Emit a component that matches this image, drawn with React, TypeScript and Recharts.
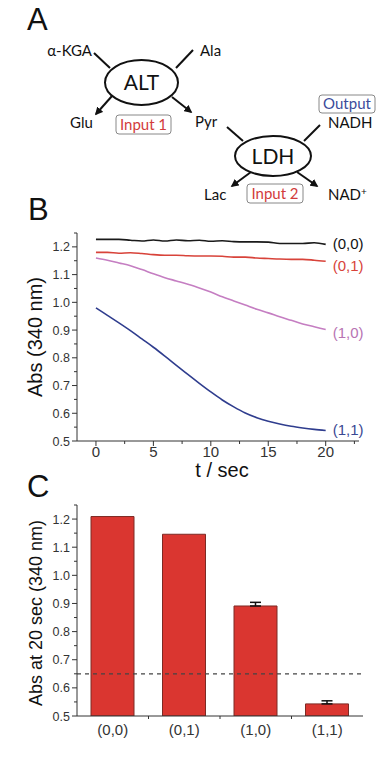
import React from 'react';
import { LineChart, Line, XAxis, YAxis, BarChart, Bar, ErrorBar, ReferenceLine, ReferenceDot } from 'recharts';

// ---- panel B: absorbance traces ----
const times = [0, 1, 2, 3, 4, 5, 6, 7, 8, 9, 10, 11, 12, 13, 14, 15, 16, 17, 18, 19, 20];
const abs00 = [1.227, 1.227, 1.227, 1.224, 1.221, 1.225, 1.221, 1.225, 1.222, 1.224, 1.22, 1.222, 1.219, 1.218, 1.218, 1.217, 1.212, 1.212, 1.212, 1.215, 1.209];
const abs01 = [1.18, 1.18, 1.177, 1.179, 1.176, 1.172, 1.17, 1.17, 1.168, 1.167, 1.167, 1.166, 1.163, 1.163, 1.16, 1.158, 1.156, 1.155, 1.155, 1.152, 1.148];
const abs10 = [1.16, 1.152, 1.142, 1.132, 1.118, 1.103, 1.089, 1.077, 1.065, 1.052, 1.037, 1.02, 1.005, 0.99, 0.975, 0.962, 0.948, 0.935, 0.922, 0.912, 0.902];
const abs11 = [0.98, 0.953, 0.926, 0.898, 0.868, 0.838, 0.806, 0.773, 0.74, 0.708, 0.677, 0.648, 0.623, 0.601, 0.584, 0.571, 0.561, 0.553, 0.547, 0.542, 0.538];
const timeTicks = [0, 2.5, 5, 7.5, 10, 12.5, 15, 17.5, 20, 22.5];
const absTicks = [0.5, 0.55, 0.6, 0.65, 0.7, 0.75, 0.8, 0.85, 0.9, 0.95, 1.0, 1.05, 1.1, 1.15, 1.2, 1.25];

// ---- panel C: absorbance at 20 s ----
const conditions = ['(0,0)', '(0,1)', '(1,0)', '(1,1)'];
const absAt20 = [1.209, 1.146, 0.891, 0.543];
const absErrUp = [0, 0, 0.013, 0.011];
const threshold = 0.65;

const lineData = times.map((t, i) => ({ t, a00: abs00[i], a01: abs01[i], a10: abs10[i], a11: abs11[i] }));
const barData = conditions.map((c, i) => ({
  cond: c,
  abs: absAt20[i],
  err: absErrUp[i] > 0 ? [0, absErrUp[i]] : null,
}));

const AXIS = '#333';
const SANS = '"Liberation Sans", Arial, sans-serif';
const DIAG = 'Lato, "Open Sans", sans-serif';

const isMajor = (v: number, step: number) => Math.abs(v / step - Math.round(v / step)) < 1e-6;

function AbsTick({ x, y, payload }: any) {
  const v = payload.value;
  const major = isMajor(v, 0.1);
  return (
    <g>
      <line x1={x} x2={x - (major ? 5 : 3)} y1={y} y2={y} stroke={AXIS} />
      {major && (
        <text x={x - 7} y={y} dy="0.36em" textAnchor="end" fontSize={12.5} fill={AXIS} fontFamily={SANS}>
          {v.toFixed(1)}
        </text>
      )}
    </g>
  );
}

function TimeTick({ x, y, payload }: any) {
  const v = payload.value;
  const major = isMajor(v, 5);
  return (
    <g>
      <line x1={x} x2={x} y1={y} y2={y + (major ? 5 : 3)} stroke={AXIS} />
      {major && (
        <text x={x} y={y + 16} textAnchor="middle" fontSize={15} fill={AXIS} fontFamily={SANS}>
          {v}
        </text>
      )}
    </g>
  );
}

const BAR_BAND = (385 - 77 - 22) / conditions.length;

function CondTick({ x, y, payload, index }: any) {
  return (
    <g>
      {index < conditions.length - 1 && (
        <line x1={x + BAR_BAND / 2} x2={x + BAR_BAND / 2} y1={y} y2={y + 3} stroke={AXIS} />
      )}
      <text x={x} y={y + 19} textAnchor="middle" fontSize={15} fill={AXIS} fontFamily={SANS}>
        {payload.value}
      </text>
    </g>
  );
}

function endLabel(text: string, color: string, dy: number) {
  return (props: any) => {
    const vb = props.viewBox || {};
    const cx = (vb.x || 0) + (vb.width || 0) / 2;
    const cy = (vb.y || 0) + (vb.height || 0) / 2;
    return (
      <text x={cx + 7} y={cy + dy} dy="0.36em" fontSize={15} fill={color} fontFamily={SANS}>
        {text}
      </text>
    );
  };
}

function Diagram() {
  const ln = { stroke: '#111', strokeWidth: 2 };
  return (
    <svg width={385} height={764} style={{ position: 'absolute', left: 0, top: 0 }}>
      <defs>
        <marker id="arr" viewBox="0 0 10 10" refX="8" refY="5" markerWidth="4" markerHeight="4" orient="auto">
          <path d="M0,0 L10,5 L0,10 z" fill="#111" />
        </marker>
      </defs>
      <g fontFamily={SANS} fontSize={31} fill="#111">
        <text x={27} y={30}>A</text>
        <text x={28} y={220}>B</text>
        <text x={27} y={497}>C</text>
      </g>

      <g fontFamily={DIAG} fontSize={15} fill="#111">
        <line x1={94} y1={53} x2={110} y2={68} {...ln} />
        <line x1={193} y1={50} x2={176} y2={68} {...ln} />
        <line x1={112} y1={96} x2={96} y2={114} {...ln} markerEnd="url(#arr)" />
        <line x1={172} y1={97} x2={191} y2={112} {...ln} markerEnd="url(#arr)" />
        <ellipse cx={141.5} cy={82.5} rx={36.5} ry={22.5} fill="#fff" {...ln} />
        <text x={141.5} y={90} textAnchor="middle" fontSize={21}>ALT</text>
        <text x={92} y={56} textAnchor="end">α-KGA</text>
        <text x={200} y={56}>Ala</text>
        <text x={70} y={128}>Glu</text>
        <text x={195} y={127}>Pyr</text>
        <rect x={116} y={115} width={55} height={19} rx={3} fill="#fff" stroke="#888" />
        <text x={143.5} y={130} textAnchor="middle" fill="#d23b3b">Input 1</text>

        <line x1={227} y1={127} x2={243} y2={141} {...ln} />
        <line x1={320} y1={125} x2={304} y2={141} {...ln} />
        <line x1={251} y1={172} x2={232} y2={186} {...ln} markerEnd="url(#arr)" />
        <line x1={297} y1={172} x2={317} y2={186} {...ln} markerEnd="url(#arr)" />
        <ellipse cx={273} cy={156} rx={38} ry={20} fill="#fff" {...ln} />
        <text x={273} y={163.5} textAnchor="middle" fontSize={21}>LDH</text>
        <rect x={319} y={95} width={56} height={18} rx={3} fill="#fff" stroke="#888" />
        <text x={347} y={109} textAnchor="middle" fill="#3b4c9b">Output</text>
        <text x={328} y={128}>NADH</text>
        <text x={204} y={200}>Lac</text>
        <rect x={247} y={184} width={56} height={19} rx={3} fill="#fff" stroke="#888" />
        <text x={275} y={199} textAnchor="middle" fill="#d23b3b">Input 2</text>
        <text x={328} y={200}>
          NAD<tspan dy={-5} fontSize={10}>+</tspan>
        </text>
      </g>

      <g fontFamily={SANS} fill="#111">
        <text x={42} y={337} fontSize={20} textAnchor="middle" transform="rotate(-90 42 337)">Abs (340 nm)</text>
        <text x={222} y={477} fontSize={20} textAnchor="middle">t / sec</text>
        <text x={42} y={613} fontSize={18} textAnchor="middle" transform="rotate(-90 42 613)">Abs at 20 sec (340 nm)</text>
      </g>
    </svg>
  );
}

export default function App() {
  return (
    <div style={{ position: 'absolute', left: 0, top: 0, width: 385, height: 764, background: '#fff', fontFamily: SANS }}>
      <Diagram />

      <div style={{ position: 'absolute', left: 0, top: 200 }}>
        <LineChart width={385} height={280} data={lineData} margin={{ top: 33, right: 26, bottom: 9, left: 37 }}>
          <XAxis
            dataKey="t"
            type="number"
            domain={[-1.65, 22.9]}
            allowDataOverflow
            ticks={timeTicks}
            interval={0}
            tick={<TimeTick />}
            tickSize={0}
            tickMargin={0}
            height={30}
            stroke={AXIS}
          />
          <YAxis
            type="number"
            domain={[0.5, 1.25]}
            allowDataOverflow
            ticks={absTicks}
            interval={0}
            tick={<AbsTick />}
            tickSize={0}
            tickMargin={0}
            width={40}
            stroke={AXIS}
          />
          <Line dataKey="a00" type="monotone" stroke="#1a1a1a" strokeWidth={1.6} dot={false} isAnimationActive={false} />
          <Line dataKey="a01" type="monotone" stroke="#d8433a" strokeWidth={1.6} dot={false} isAnimationActive={false} />
          <Line dataKey="a10" type="monotone" stroke="#c57ec2" strokeWidth={1.6} dot={false} isAnimationActive={false} />
          <Line dataKey="a11" type="monotone" stroke="#2f3d8e" strokeWidth={1.6} dot={false} isAnimationActive={false} />
          <ReferenceDot x={times[20]} y={abs00[20]} r={1} fill="none" stroke="none" label={endLabel('(0,0)', '#111', -1)} />
          <ReferenceDot x={times[20]} y={abs01[20]} r={1} fill="none" stroke="none" label={endLabel('(0,1)', '#d8433a', 4)} />
          <ReferenceDot x={times[20]} y={abs10[20]} r={1} fill="none" stroke="none" label={endLabel('(1,0)', '#b874b3', 3)} />
          <ReferenceDot x={times[20]} y={abs11[20]} r={1} fill="none" stroke="none" label={endLabel('(1,1)', '#3a4893', -1)} />
        </LineChart>
      </div>

      <div style={{ position: 'absolute', left: 0, top: 480 }}>
        <BarChart width={385} height={284} data={barData} margin={{ top: 25, right: 22, bottom: 18, left: 37 }}>
          <XAxis dataKey="cond" tick={<CondTick />} tickSize={0} tickMargin={0} height={30} interval={0} stroke={AXIS} />
          <YAxis
            type="number"
            domain={[0.5, 1.25]}
            allowDataOverflow
            ticks={absTicks}
            interval={0}
            tick={<AbsTick />}
            tickSize={0}
            tickMargin={0}
            width={40}
            stroke={AXIS}
          />
          <Bar dataKey="abs" barSize={43} fill="#da3630" stroke="#7d2a24" strokeWidth={1} isAnimationActive={false}>
            <ErrorBar dataKey="err" direction="y" width={5.5} stroke="#111" strokeWidth={1.5} />
          </Bar>
          <ReferenceLine y={threshold} stroke="#444" strokeDasharray="4 4" strokeWidth={1.2} />
        </BarChart>
      </div>
    </div>
  );
}
